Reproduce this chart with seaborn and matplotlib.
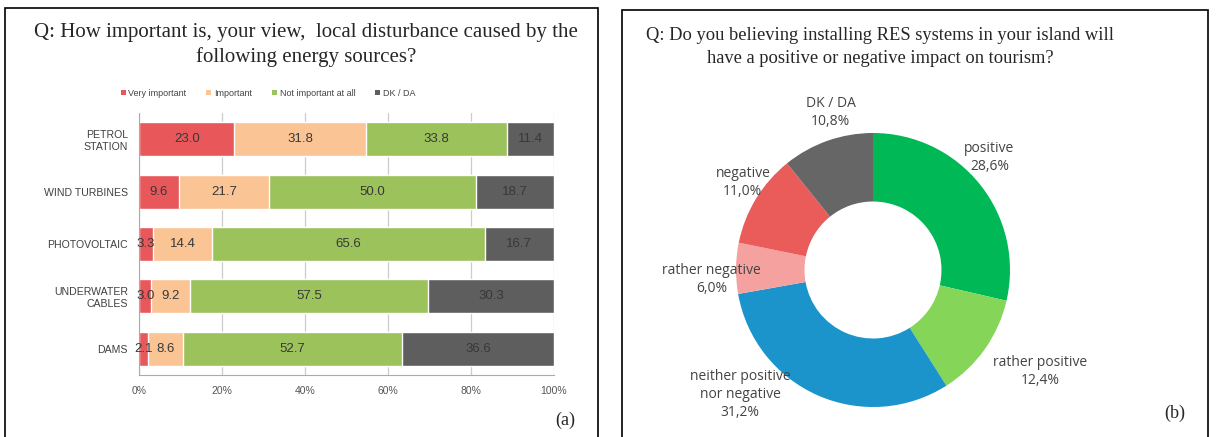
import matplotlib
matplotlib.use("Agg")
import matplotlib.pyplot as plt
from matplotlib.patches import Rectangle, Patch
import seaborn as sns
import numpy as np
import pandas as pd

# DATA ==========================================================================
sources = ["PETROL\nSTATION", "WIND TURBINES", "PHOTOVOLTAIC", "UNDERWATER\nCABLES", "DAMS"]
answers = ["Very important", "Important", "Not important at all", "DK / DA"]
very_important = [23.0, 9.6, 3.3, 3.0, 2.1]
important = [31.8, 21.7, 14.4, 9.2, 8.6]
not_important = [33.8, 50.0, 65.6, 57.5, 52.7]
dk_da = [11.4, 18.7, 16.7, 30.3, 36.6]
x_ticks = [0, 20, 40, 60, 80, 100]

impact_labels = ["positive", "rather positive", "neither positive\nnor negative",
                 "rather negative", "negative", "DK / DA"]
impact_values = [28.6, 12.4, 31.2, 6.0, 11.0, 10.8]

# STYLE =========================================================================
bar_colors = ["#e8585b", "#fbc495", "#9cc25c", "#5e5e5e"]
pie_colors = ["#00b855", "#84d558", "#1b94cc", "#f4a1a0", "#e95c5a", "#666666"]
# label offsets (in pie radius units) relative to centre
pie_label_xy = [(0.85, 0.82), (1.22, -0.74), (-0.97, -0.91),
                (-1.18, -0.07), (-0.95, 0.64), (-0.31, 1.15)]

sns.set_style("white")
plt.rcParams["font.family"] = ["Liberation Sans", "DejaVu Sans"]

W, H = 1218, 437
fig = plt.figure(figsize=(W / 100, H / 100), dpi=100)

# panel frames
fig.patches.append(Rectangle((5 / W, -0.05), 593 / W, 1.05 - 8 / H, transform=fig.transFigure,
                             fill=False, edgecolor="black", linewidth=1.2))
fig.patches.append(Rectangle((622 / W, -0.05), 586 / W, 1.05 - 10 / H, transform=fig.transFigure,
                             fill=False, edgecolor="black", linewidth=1.2))

serif = ["Liberation Serif", "DejaVu Serif"]
fig.text(306 / W, 1 - 45 / H, "Q: How important is, your view,  local disturbance caused by the\nfollowing energy sources?",
         ha="center", va="center", ma="center", fontsize=15, family=serif, linespacing=1.3)
fig.text(880 / W, 1 - 47 / H, "Q: Do you believing installing RES systems in your island will\nhave a positive or negative impact on tourism?",
         ha="center", va="center", ma="center", fontsize=13.3, family=serif, linespacing=1.45)
fig.text(565 / W, 1 - 420 / H, "(a)", ha="center", va="center", fontsize=13, family=serif)
fig.text(1175 / W, 1 - 413 / H, "(b)", ha="center", va="center", fontsize=13, family=serif)

# (a) stacked bars ==============================================================
ax = fig.add_axes([139 / W, 1 - 375 / H, 415 / W, 262 / H])
df = pd.DataFrame({"source": sources, answers[0]: very_important, answers[1]: important,
                   answers[2]: not_important, answers[3]: dk_da})
cum = df[answers].cumsum(axis=1)
for i in range(len(answers) - 1, -1, -1):
    sns.barplot(x=cum[answers[i]], y=df["source"], orient="h", color=bar_colors[i],
                width=0.65, saturation=1, ax=ax, zorder=2)
for i, a in enumerate(answers):
    left = cum[a] - df[a]
    for j, v in enumerate(df[a]):
        ax.text(left[j] + v / 2, j, f"{v:.1f}", ha="center", va="center",
                fontsize=9.5, color="#383838", zorder=3)

ax.set_xlim(0, 100)
ax.set_ylim(len(sources) - 0.5, -0.5)
ax.set_xticks(x_ticks)
ax.set_xticklabels([f"{t}%" for t in x_ticks], fontsize=7.5, color="#555555")
ax.tick_params(axis="y", labelsize=7.6, length=0, pad=8, labelcolor="#404040")
ax.set_yticks(np.arange(-0.5, len(sources), 1), minor=True)
ax.tick_params(axis="y", which="minor", length=4, color="#aaaaaa", direction="out")
ax.tick_params(axis="x", length=4, color="#aaaaaa", direction="out", pad=4)
ax.xaxis.grid(True, color="#cccccc", linewidth=0.9, zorder=0)
ax.set_axisbelow(True)
ax.set_xlabel("")
ax.set_ylabel("")
for s in ["top", "right"]:
    ax.spines[s].set_visible(False)
for s in ["left", "bottom"]:
    ax.spines[s].set_color("#aaaaaa")
ax.patch.set_alpha(0)

handles = [Patch(facecolor=c, edgecolor="none") for c in bar_colors]
fig.legend(handles, answers, loc="center", bbox_to_anchor=(268 / W, 1 - 93 / H), ncol=4,
           frameon=False, fontsize=6.5, handlelength=0.55, handleheight=0.55, handletextpad=0.3,
           columnspacing=2.2, labelcolor="#444444")

# (b) donut =====================================================================
cx, cy, r, s = 873, 437 - 270, 137, 175
pax = fig.add_axes([(cx - s) / W, (cy - s) / H, 2 * s / W, 2 * s / H])
pax.pie(impact_values, colors=pie_colors, startangle=90, counterclock=False,
        wedgeprops=dict(width=0.5, edgecolor="none"))
pax.set_xlim(-s / r, s / r)
pax.set_ylim(-s / r, s / r)
pax.set_aspect("equal")
pax.axis("off")
for lab, v, (lx, ly) in zip(impact_labels, impact_values, pie_label_xy):
    pax.text(lx, ly, f"{lab}\n{v:.1f}%".replace(".", ","), ha="center", va="center",
             fontsize=10, color="#444444", family=["Open Sans", "DejaVu Sans"], linespacing=1.3)

fig.savefig("out.png", dpi=100)
